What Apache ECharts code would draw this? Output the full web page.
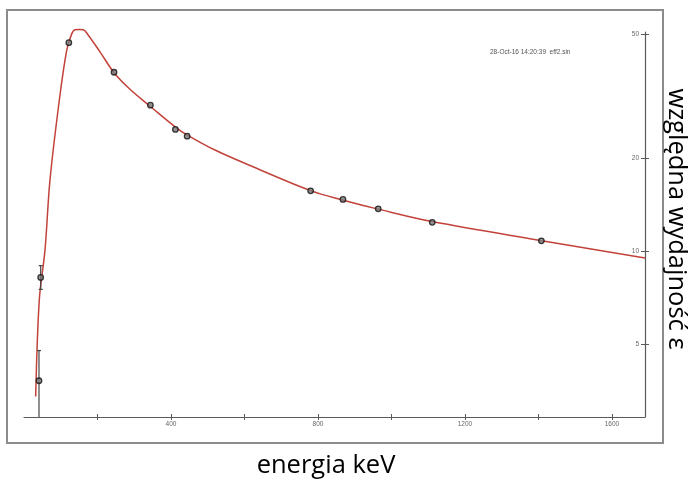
<!DOCTYPE html>
<html>
<head>
<meta charset="utf-8">
<script src="https://cdn.jsdelivr.net/npm/echarts@6/dist/echarts.min.js"></script>
<style>
html,body{margin:0;padding:0;background:#fff;}
#chart{width:688px;height:479px;}
</style>
</head>
<body>
<div id="chart"></div>
<script>
// measured calibration points (keV, relative efficiency)
const energy     = [40.8, 45.4, 122, 245, 344, 412, 444, 780, 868, 964, 1111, 1408];
const efficiency = [3.81, 8.22, 47.1, 37.8, 29.6, 24.7, 23.5, 15.65, 14.68, 13.69, 12.38, 10.79];
const errLow     = [2.5, 7.52, null, null, null, null, null, null, null, null, null, null];
const errHigh    = [4.77, 8.97, null, null, null, null, null, null, null, null, null, null];

// fitted efficiency curve
const curveEnergy = [31.8, 41.6, 57.1, 70.7, 96.1, 116.2, 129.8, 138.8, 149.7, 161.4, 175, 206.8, 245.7, 288.4, 344.8, 412.8, 444.4, 519.7, 615, 780, 869, 964, 1111, 1409, 1690];
const curveValue  = [3.39, 6.95, 10.07, 16.94, 30.7, 44.5, 50.3, 51.9, 52.0, 51.9, 49.8, 44.0, 37.6, 33.3, 29.25, 25.1, 23.7, 21.2, 18.9, 15.67, 14.6, 13.66, 12.45, 10.8, 9.49];

// axis ticks / labels
const xTickValues  = [200, 400, 600, 800, 1000, 1200, 1400, 1600];
const xLabelValues = [400, 800, 1200, 1600];
const yTickValues  = [5, 10, 20, 50];

const titleText = '28-Oct-16 14:20:39  eff2.sin';
const xName = 'energia keV';
const yName = 'względna wydajność ε';

const pointData = energy.map((e, i) => [e, efficiency[i]]);
const curveData = curveEnergy.map((e, i) => [e, curveValue[i]]);
const errData = [];
energy.forEach((e, i) => { if (errLow[i] != null) errData.push([e, errLow[i], errHigh[i]]); });

const axisColor = '#5a5a5a';
const labelStyle = { fontSize: 6.5, color: '#666', fontFamily: 'Liberation Sans' };
const gridRect = { left: 24, right: 43, top: 32, bottom: 62, containLabel: false, outerBoundsMode: 'none' };
const xRange = { min: 0, max: 1690 };
const yRange = { min: 2.91, max: 51 };

const chart = echarts.init(document.getElementById('chart'), null, { renderer: 'canvas' });
chart.setOption({
  backgroundColor: '#fff',
  animation: false,
  title: {
    text: titleText,
    left: 485, top: 44,
    textStyle: { fontSize: 6.5, fontWeight: 'normal', color: '#555', fontFamily: 'Liberation Sans' }
  },
  graphic: [{
    type: 'rect', z: -10, silent: true,
    shape: { x: 7, y: 10, width: 656, height: 433 },
    style: { fill: 'none', stroke: '#8c8c8c', lineWidth: 2 }
  }],
  grid: [Object.assign({}, gridRect), Object.assign({}, gridRect)],
  xAxis: [{
    gridIndex: 0, type: 'value', ...xRange, position: 'bottom',
    splitLine: { show: false },
    axisLine: { show: true, onZero: false, lineStyle: { color: axisColor, width: 1.2 } },
    axisTick: { show: true, length: 3, customValues: xTickValues, lineStyle: { color: axisColor } },
    axisLabel: { customValues: xLabelValues, margin: 4, formatter: v => String(v), ...labelStyle },
    name: xName, nameLocation: 'middle', nameGap: 36,
    nameTextStyle: { fontSize: 25.5, color: '#000', fontFamily: 'Open Sans', padding: [0, 17, 0, 0] }
  }, {
    gridIndex: 1, type: 'value', ...xRange, position: 'bottom',
    splitLine: { show: false },
    axisLine: { show: false, onZero: false },
    axisTick: { show: true, inside: true, length: 3, customValues: xTickValues, lineStyle: { color: axisColor } },
    axisLabel: { show: false }
  }],
  yAxis: [{
    gridIndex: 0, type: 'log', logBase: 10, ...yRange, position: 'right',
    splitLine: { show: false },
    axisLine: { show: true, onZero: false, lineStyle: { color: axisColor, width: 1.2 } },
    axisTick: { show: true, length: 4, customValues: yTickValues, lineStyle: { color: axisColor } },
    axisLabel: { inside: true, customValues: yTickValues, margin: 6, formatter: v => String(v), ...labelStyle },
    name: yName, nameLocation: 'middle', nameGap: 18, nameRotate: -90,
    nameTextStyle: { fontSize: 25.5, color: '#000', fontFamily: 'Open Sans', padding: [0, 11, 0, 0] }
  }, {
    gridIndex: 1, type: 'log', logBase: 10, ...yRange, position: 'right',
    splitLine: { show: false },
    axisLine: { show: false, onZero: false },
    axisTick: { show: true, inside: true, length: 4, customValues: yTickValues, lineStyle: { color: axisColor } },
    axisLabel: { show: false }
  }],
  series: [{
    type: 'line', name: 'fit', data: curveData, smooth: 0.35, clip: false,
    showSymbol: false, symbol: 'none',
    lineStyle: { color: '#c2423a', width: 1.5 },
    z: 2
  }, {
    type: 'custom', name: 'errors', data: errData,
    encode: { x: 0, y: [1, 2] },
    z: 3,
    renderItem: function (params, api) {
      const x = api.value(0);
      const lo = api.coord([x, api.value(1)]);
      const hi = api.coord([x, api.value(2)]);
      const bottom = params.coordSys.y + params.coordSys.height;
      const clamped = lo[1] > bottom;
      const loY = clamped ? bottom : lo[1];
      const cap = 2;
      const style = { stroke: '#444', lineWidth: 1.2 };
      const children = [
        { type: 'line', shape: { x1: hi[0], y1: hi[1], x2: hi[0], y2: loY }, style: style },
        { type: 'line', shape: { x1: hi[0] - cap, y1: hi[1], x2: hi[0] + cap, y2: hi[1] }, style: style }
      ];
      if (!clamped) children.push({ type: 'line', shape: { x1: lo[0] - cap, y1: lo[1], x2: lo[0] + cap, y2: lo[1] }, style: style });
      return { type: 'group', children: children };
    }
  }, {
    type: 'scatter', name: 'points', data: pointData,
    symbol: 'circle', symbolSize: 5.5,
    itemStyle: { color: '#7a7a7a', borderColor: '#111', borderWidth: 1.3 },
    z: 4
  }]
});
</script>
</body>
</html>
